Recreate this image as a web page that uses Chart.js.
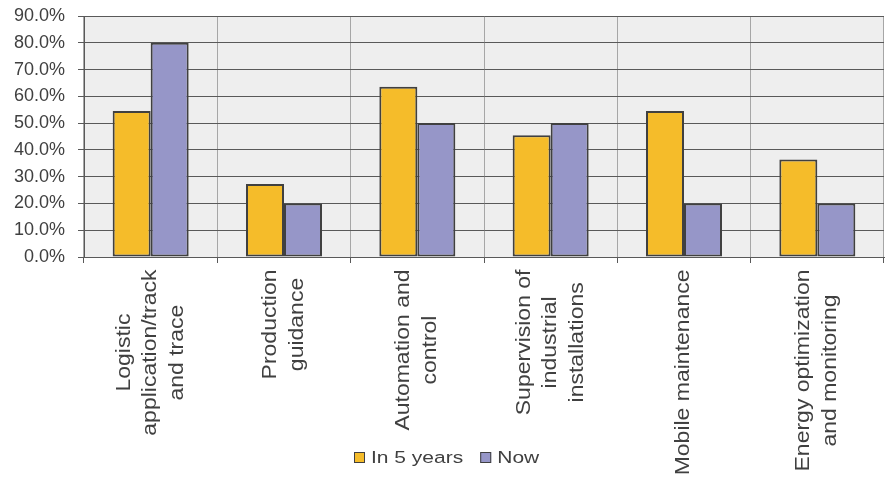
<!DOCTYPE html>
<html lang="en">
<head>
<meta charset="UTF-8">
<title>Application areas - in 5 years vs now</title>
<script src="https://cdn.jsdelivr.net/npm/chart.js@4.4.0/dist/chart.umd.min.js"></script>
<style>
  body { margin: 0; background: #fff; }
</style>
</head>
<body>
<canvas id="myChart" width="885" height="482"></canvas>

<script>
  var categories = [
    ["Logistic", "application/track", "and trace"],
    ["Production", "guidance"],
    ["Automation and", "control"],
    ["Supervision of", "industrial", "installations"],
    ["Mobile maintenance"],
    ["Energy optimization", "and monitoring"]
  ];
  var seriesNames = ["In 5 years", "Now"];
  var in5Years = [54.5, 27.3, 63.6, 45.5, 54.5, 36.4];
  var now = [80.0, 20.0, 50.0, 50.0, 20.0, 20.0];

  var TEXT = '#404040';
  var FONT = '"Liberation Sans", Arial, sans-serif';
  Chart.defaults.font.family = FONT;

  // grey plot background
  var plotBg = {
    id: 'plotBg',
    beforeDraw: function(chart) {
      var a = chart.chartArea, ctx = chart.ctx;
      ctx.save();
      ctx.fillStyle = '#eeeeee';
      ctx.fillRect(a.left, a.top, a.right - a.left, a.bottom - a.top);
      ctx.restore();
    }
  };

  // category labels: rotated, lines centred on each other (Chart.js right-aligns them)
  var squash = 0.85;
  var lineGap = 26.5;
  var centredLabels = {
    id: 'centredLabels',
    afterDraw: function(chart) {
      var ctx = chart.ctx, xs = chart.scales.x;
      var top = xs.top + 12.5;
      ctx.save();
      ctx.font = '23px ' + FONT;
      ctx.fillStyle = TEXT;
      ctx.textAlign = 'center';
      ctx.textBaseline = 'middle';
      chart.data.labels.forEach(function(lines, i) {
        var x = xs.getPixelForTick(i);
        var widest = Math.max.apply(null, lines.map(function(l) { return ctx.measureText(l).width; }));
        ctx.save();
        ctx.translate(x, top);
        ctx.rotate(-Math.PI / 2);
        ctx.scale(1, squash);
        lines.forEach(function(line, j) {
          ctx.fillText(line, -widest / 2, (j - (lines.length - 1) / 2) * lineGap / squash);
        });
        ctx.restore();
      });

      // legend
      ctx.font = '21px ' + FONT;
      ctx.textAlign = 'left';
      ctx.textBaseline = 'alphabetic';
      var box = 11, gapIn = 6, gapOut = 17;
      var items = chart.data.datasets.map(function(ds) {
        return { ds: ds, w: ctx.measureText(ds.label).width };
      });
      var total = items.reduce(function(s, it) { return s + box + gapIn + it.w; }, 0) + gapOut * (items.length - 1);
      var lx = Math.round((chart.width - total) / 2) + 4;
      var baseY = 463;
      items.forEach(function(it) {
        ctx.fillStyle = it.ds.backgroundColor;
        ctx.fillRect(lx, baseY - box, box, box);
        ctx.strokeStyle = TEXT;
        ctx.lineWidth = 1;
        ctx.strokeRect(lx + 0.5, baseY - box + 0.5, box - 1, box - 1);
        ctx.save();
        ctx.translate(lx + box + gapIn, baseY);
        ctx.scale(1, 0.8);
        ctx.fillStyle = TEXT;
        ctx.fillText(it.ds.label, 0, 0);
        ctx.restore();
        lx += box + gapIn + it.w + gapOut;
      });
      ctx.restore();
    }
  };

  var ctx = document.getElementById('myChart').getContext('2d');

  var myChart = new Chart(ctx, {
    type: 'bar',
    data: {
      labels: categories,
      datasets: [{
        label: seriesNames[0],
        data: in5Years,
        backgroundColor: '#f5bc2a',
        borderColor: TEXT,
        borderWidth: 2,
        borderSkipped: false
      }, {
        label: seriesNames[1],
        data: now,
        backgroundColor: '#9696c8',
        borderColor: TEXT,
        borderWidth: 2,
        borderSkipped: false
      }]
    },
    options: {
      responsive: false,
      animation: false,
      devicePixelRatio: 1,
      layout: { padding: { top: 16, right: 1, left: 0, bottom: 0 } },
      datasets: { bar: { categoryPercentage: 0.57, barPercentage: 1.0 } },
      plugins: {
        legend: { display: false },
        tooltip: { enabled: false }
      },
      scales: {
        x: {
          grid: { color: '#a6a6a6', tickColor: '#595959', tickLength: 6, offset: true },
          border: { color: '#595959' },
          ticks: { color: 'transparent', font: { size: 23 }, minRotation: 90, maxRotation: 90, autoSkip: false },
          afterFit: function(s) { s.height = 225; }
        },
        y: {
          min: 0,
          max: 90,
          grid: { color: '#595959', tickLength: 6 },
          border: { color: '#595959' },
          ticks: {
            stepSize: 10,
            color: TEXT,
            font: { size: 18 },
            padding: 13,
            callback: function(v) { return v.toFixed(1) + '%'; }
          },
          afterFit: function(s) {
            s.width = 84;
            s.paddingTop = 10;
            s.paddingBottom = 10;
          }
        }
      }
    },
    plugins: [plotBg, centredLabels]
  });
</script>
</body>
</html>
